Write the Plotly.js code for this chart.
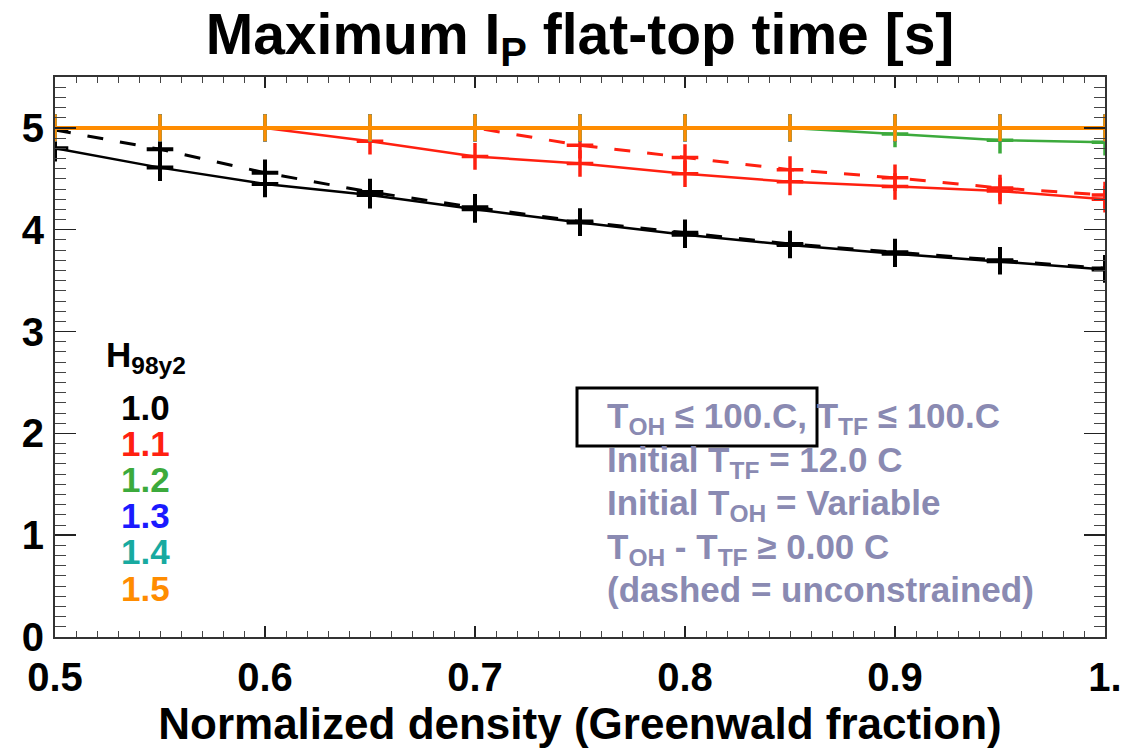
<!DOCTYPE html>
<html>
<head>
<meta charset="utf-8">
<script src="https://cdn.plot.ly/plotly-3.0.1.min.js"></script>
<style>html,body{margin:0;padding:0;background:#fff;}#chart{width:1123px;height:749px;}</style>
</head>
<body>
<div id="chart"></div>
<script>
// ---- data ----
const density = [0.5, 0.55, 0.6, 0.65, 0.7, 0.75, 0.8, 0.85, 0.9, 0.95, 1.0];
const xTickVals = [0.5, 0.6, 0.7, 0.8, 0.9, 1.0];
const xTickText = ["0.5", "0.6", "0.7", "0.8", "0.9", "1."];
const hLabels = ["1.0", "1.1", "1.2", "1.3", "1.4", "1.5"];

const h10Solid = [4.80, 4.61, 4.45, 4.34, 4.20, 4.07, 3.95, 3.85, 3.765, 3.69, 3.61];
const h10Dash  = [4.98, 4.79, 4.56, 4.37, 4.22, 4.08, 3.97, 3.86, 3.78, 3.70, 3.62];
const h11Solid = [5.00, 5.00, 5.00, 4.87, 4.72, 4.65, 4.55, 4.47, 4.425, 4.38, 4.30];
const h11Dash  = [5.00, 5.00, 5.00, 5.00, 5.00, 4.83, 4.71, 4.59, 4.51, 4.41, 4.34];
const h12Solid = [5.00, 5.00, 5.00, 5.00, 5.00, 5.00, 5.00, 5.00, 4.94, 4.88, 4.86];
const h12Dash  = [5.00, 5.00, 5.00, 5.00, 5.00, 5.00, 5.00, 5.00, 5.00, 5.00, 5.00];
const h13Solid = [5.00, 5.00, 5.00, 5.00, 5.00, 5.00, 5.00, 5.00, 5.00, 5.00, 5.00];
const h13Dash  = [5.00, 5.00, 5.00, 5.00, 5.00, 5.00, 5.00, 5.00, 5.00, 5.00, 5.00];
const h14Solid = [5.00, 5.00, 5.00, 5.00, 5.00, 5.00, 5.00, 5.00, 5.00, 5.00, 5.00];
const h14Dash  = [5.00, 5.00, 5.00, 5.00, 5.00, 5.00, 5.00, 5.00, 5.00, 5.00, 5.00];
const h15Solid = [5.00, 5.00, 5.00, 5.00, 5.00, 5.00, 5.00, 5.00, 5.00, 5.00, 5.00];
const h15Dash  = [5.00, 5.00, 5.00, 5.00, 5.00, 5.00, 5.00, 5.00, 5.00, 5.00, 5.00];

const noteLines = [
  "T<sub>OH</sub> \u2264 100.C, T<sub>TF</sub> \u2264 100.C",
  "Initial T<sub>TF</sub> = 12.0 C",
  "Initial T<sub>OH</sub> = Variable",
  "T<sub>OH</sub> - T<sub>TF</sub> \u2265 0.00 C",
  "(dashed = unconstrained)"
];

// ---- styles ----
const colors = ["#000000", "#ff2010", "#3caa3c", "#1a1aff", "#18aaa0", "#ff8c00"];
const FONT = "Liberation Sans, Arial, Helvetica, sans-serif";
const noteColor = "#8a8ab2";

const series = [
  [h10Solid, h10Dash], [h11Solid, h11Dash], [h12Solid, h12Dash],
  [h13Solid, h13Dash], [h14Solid, h14Dash], [h15Solid, h15Dash]
];

const traces = [];
series.forEach((pair, i) => {
  const c = colors[i];
  const lw = i === 5 ? 4 : 2.5;
  const mw = i === 5 ? 3 : (i === 0 ? 4 : 3.5);
  // dashed (unconstrained)
  traces.push({
    x: density, y: pair[1], type: "scatter", mode: "lines+markers",
    line: {color: c, width: 3, dash: "16px,17px"},
    marker: {symbol: "cross-thin", size: 19, color: c, line: {color: c, width: mw}},
    showlegend: false, hoverinfo: "skip"
  });
  // solid (constrained)
  traces.push({
    x: density, y: pair[0], type: "scatter", mode: "lines+markers",
    line: {color: c, width: lw},
    marker: {symbol: "cross-thin", size: 19, color: c, line: {color: c, width: mw}},
    showlegend: false, hoverinfo: "skip"
  });
});

// pixel helpers for plot area (l=55, r=1105, t=77, b=637)
const PX = p => (p - 55) / 1050;
const PY = p => (637 - p) / 560;

const annotations = [];
annotations.push({
  xref: "paper", yref: "paper", x: PX(104), y: PY(333), xanchor: "left", yanchor: "top",
  text: "H<sub>98y2</sub>", showarrow: false,
  font: {family: FONT, size: 35, color: "#000", weight: "bold"}
});
hLabels.forEach((t, i) => {
  annotations.push({
    xref: "paper", yref: "paper", x: PX(145), y: PY(407 + i * 36.2), xanchor: "center", yanchor: "middle",
    text: t, showarrow: false,
    font: {family: FONT, size: 35, color: colors[i], weight: "bold"}
  });
});
noteLines.forEach((t, i) => {
  annotations.push({
    xref: "paper", yref: "paper", x: PX(605), y: PY(394 + i * 43.5), xanchor: "left", yanchor: "top",
    text: t, showarrow: false, align: "left",
    font: {family: FONT, size: 35, color: noteColor, weight: "bold"}
  });
});

const layout = {
  width: 1123, height: 749,
  margin: {l: 55, r: 18, t: 77, b: 112, pad: 0},
  paper_bgcolor: "#fff", plot_bgcolor: "#fff",
  font: {family: FONT, color: "#000"},
  title: {
    text: "Maximum I<sub>P</sub> flat-top time [s]",
    font: {family: FONT, size: 57, color: "#000", weight: "bold"},
    x: 0.5, xref: "paper", xanchor: "center", y: 1 - 34 / 749, yref: "container", yanchor: "middle"
  },
  xaxis: {
    range: [0.5, 1.0], tickvals: xTickVals, ticktext: xTickText,
    ticks: "inside", ticklen: 11, tickwidth: 1.5, tickcolor: "#222",
    minor: {dtick: 0.01, ticks: "inside", ticklen: 6, tickwidth: 1, tickcolor: "#444"},
    showline: true, linecolor: "#333", linewidth: 2, mirror: "allticks",
    showgrid: false, zeroline: false,
    tickfont: {family: FONT, size: 40, color: "#000", weight: "bold"},
    ticklabelstandoff: 4,
    title: {text: "Normalized density (Greenwald fraction)", standoff: 6,
            font: {family: FONT, size: 44, color: "#000", weight: "bold"}}
  },
  yaxis: {
    range: [0, 5.5], tickvals: [0, 1, 2, 3, 4, 5],
    ticks: "inside", ticklen: 21, tickwidth: 1.5, tickcolor: "#222",
    minor: {dtick: 0.1, ticks: "inside", ticklen: 11, tickwidth: 1, tickcolor: "#444"},
    showline: true, linecolor: "#333", linewidth: 2, mirror: "allticks",
    showgrid: false, zeroline: false,
    tickfont: {family: FONT, size: 40, color: "#000", weight: "bold"},
    ticklabelstandoff: 1
  },
  shapes: [{
    type: "rect", xref: "paper", yref: "paper",
    x0: PX(577), x1: PX(817), y0: PY(446), y1: PY(388),
    line: {color: "#000", width: 3}, fillcolor: "rgba(0,0,0,0)", layer: "above"
  }],
  annotations: annotations
};

Plotly.newPlot("chart", traces, layout, {displayModeBar: false, staticPlot: true});
</script>
</body>
</html>
